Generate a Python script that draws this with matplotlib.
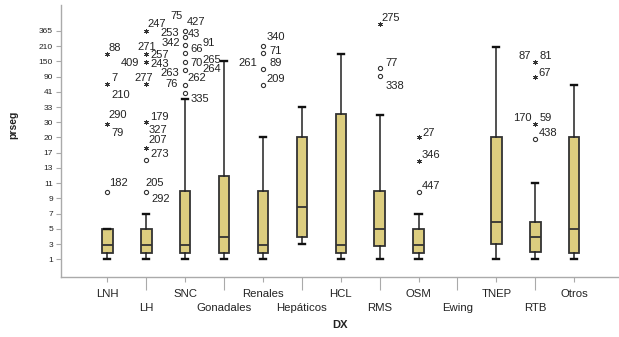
import numpy as np
import matplotlib
matplotlib.use("Agg")
import matplotlib.pyplot as plt
from matplotlib.ticker import FixedLocator, NullLocator

# ---------------- data ----------------
categories = ["LNH", "LH", "SNC", "Gonadales", "Renales", "Hepáticos", "HCL",
              "RMS", "OSM", "Ewing", "TNEP", "RTB", "Otros"]
y_tick_values = [1, 3, 5, 7, 9, 11, 13, 17, 20, 30, 33, 41, 90, 150, 210, 365]

whisker_low = [1, 1, 1, 1, 1, 3, 1, 1, 1, None, 1, 1, 1]
q1 = [1.8, 1.8, 1.8, 1.8, 1.8, 3.9, 1.8, 2.8, 1.8, None, 3, 2, 1.8]
median = [2.9, 2.9, 2.9, 3.9, 2.9, 7.9, 2.9, 5, 2.9, None, 5.9, 3.9, 5]
q3 = [5, 5, 10, 12, 10, 20, 31.6, 10, 5, None, 20, 5.9, 20]
whisker_high = [5, 7, 37, 150, 20, 33, 180, 31.4, 7, None, 207, 11, 63]

outlier_category = ["LNH", "LNH", "LNH", "LNH",
                    "LH", "LH", "LH", "LH", "LH", "LH", "LH", "LH",
                    "SNC", "SNC", "SNC", "SNC", "SNC", "SNC", "SNC", "SNC",
                    "Renales", "Renales", "Renales", "Renales",
                    "RMS", "RMS", "RMS",
                    "OSM", "OSM", "OSM",
                    "RTB", "RTB", "RTB", "RTB"]
outlier_value = [180, 65.5, 28.7, 9.8,
                 365, 180, 149, 65.5, 30, 18, 15, 9.8,
                 365, 301, 222, 182, 147.6, 116, 62.6, 40.3,
                 215, 182, 119, 62.6,
                 436, 123, 92.4,
                 20, 14.9, 9.8,
                 146.5, 88, 28.7, 19.7]
outlier_kind = ["*", "*", "*", "o",
                "*", "*", "*", "*", "*", "*", "o", "o",
                "o", "o", "o", "o", "o", "o", "o", "o",
                "o", "o", "o", "o",
                "*", "o", "o",
                "*", "*", "o",
                "*", "*", "*", "o"]

label_text = ["88", "7", "210", "290", "79", "182",
              "247", "271", "257", "409", "243", "277", "179", "327", "207", "273", "205", "292",
              "75", "427", "253", "43", "342", "66", "91", "70", "265", "264", "263", "262", "76", "335",
              "340", "71", "261", "89", "209",
              "275", "77", "338",
              "27", "346", "447",
              "87", "81", "67", "170", "59", "438"]
label_category = (["LNH"] * 6 + ["LH"] * 12 + ["SNC"] * 14 + ["Renales"] * 5
                  + ["RMS"] * 3 + ["OSM"] * 3 + ["RTB"] * 6)
label_value = [180, 65.5, 65.5, 28.7, 28.7, 9.8,
               365, 180, 180, 149, 149, 65.5, 30, 30, 18, 18, 9.8, 9.8,
               365, 365, 301, 301, 222, 182, 182, 147.6, 147.6, 116, 116, 116, 62.6, 40.3,
               215, 182, 119, 119, 62.6,
               436, 123, 92.4,
               20, 14.9, 9.8,
               146.5, 146.5, 88, 28.7, 28.7, 19.7]

# ---------------- layout (pixel offsets of the labels) ----------------
label_offset_px = [(7, -6.7), (7, -7), (13, 9.7), (10, -10), (10, 7.4), (11, -10.6),
                   (10, -8.4), (0, -8.3), (13, 0.3), (-16, 0), (13, 1.6), (-2.5, -7),
                   (13, -6.7), (12, 6.6), (11, -8.4), (13, 5), (8, -10.3), (14.5, 5.3),
                   (-8.3, -16), (11, -10.3), (-15.5, -5), (9, -4), (-14.5, -3.3), (11, -5.6),
                   (24, -11.6), (11, 0.3), (27, -3), (27, -2.3), (-15.5, 2.3), (12, 7.3),
                   (-14, -1.7), (15, 5),
                   (12.8, -10), (12.3, -3.3), (-15, -7.6), (12.3, -7.6), (12.8, -7.3),
                   (10.7, -7.3), (11.7, -6), (15.7, 9),
                   (10.2, -5.6), (12.4, -6.7), (12.4, -7.7),
                   (-10.5, -7.3), (10.5, -7.3), (9.5, -5.6), (-12.5, -7.6), (10.5, -7.6), (13, -6.7)]

FONT = ["Liberation Sans", "DejaVu Sans"]
plt.rcParams["font.family"] = FONT

W, H = 619, 337
fig = plt.figure(figsize=(W / 100, H / 100), dpi=100)
ax_left, ax_right, ax_top, ax_bottom = 60.7, 619, 5, 277
ax = fig.add_axes([ax_left / W, 1 - ax_bottom / H, (ax_right - ax_left) / W, (ax_bottom - ax_top) / H])

# ordinal-like y scale: tick values equally spaced
anchor_vals = np.array([-3.0] + list(y_tick_values) + [675.0])
anchor_idx = np.array([-2.0] + list(range(len(y_tick_values))) + [17.0])


def fwd(v):
    return np.interp(v, anchor_vals, anchor_idx)


def inv(i):
    return np.interp(i, anchor_idx, anchor_vals)


ax.set_yscale("function", functions=(fwd, inv))

pos = {c: i for i, c in enumerate(categories)}
stats, positions = [], []
for i, c in enumerate(categories):
    if whisker_low[i] is None:
        continue
    stats.append(dict(whislo=whisker_low[i], q1=q1[i], med=median[i], q3=q3[i],
                      whishi=whisker_high[i], fliers=[]))
    positions.append(i)

box_color = "#dccd7f"
edge = "#333333"
ax.bxp(stats, positions=positions, widths=0.27, capwidths=0.16, patch_artist=True,
       showfliers=False,
       boxprops=dict(facecolor=box_color, edgecolor=edge, linewidth=1.3),
       medianprops=dict(color=edge, linewidth=1.3),
       whiskerprops=dict(color="#222222", linewidth=1.1),
       capprops=dict(color="#111111", linewidth=1.7))

for c, v, k in zip(outlier_category, outlier_value, outlier_kind):
    x = pos[c]
    if k == "o":
        ax.plot([x], [v], marker="o", markersize=3.0, markerfacecolor="none",
                markeredgecolor="#333333", markeredgewidth=0.8, linestyle="none")
    else:
        ax.plot([x], [v], marker=(6, 2, 0), markersize=3.4, color="#333333",
                markeredgewidth=0.6, linestyle="none")

px2pt = 0.72
for t, c, v, (dx, dy) in zip(label_text, label_category, label_value, label_offset_px):
    ax.annotate(t, (pos[c], v), xytext=(dx * px2pt, -(dy + 4.1) * px2pt),
                textcoords="offset points", ha="center", va="baseline",
                fontsize=8, color="#222222")

# axes styling
y_lo = inv(-1.16)
y_hi = inv(16.7)
ax.set_ylim(y_lo, y_hi)
ax.set_xlim(-1.2, -1.2 + (ax_right - ax_left) / 38.9)
ax.yaxis.set_major_locator(FixedLocator(y_tick_values))
ax.yaxis.set_minor_locator(NullLocator())
ax.set_yticklabels([str(v) for v in y_tick_values])

even = list(range(0, len(categories), 2))
odd = list(range(1, len(categories), 2))
ax.set_xticks(even)
ax.set_xticklabels([categories[i] for i in even])
ax.set_xticks(odd, minor=True)
ax.set_xticklabels([categories[i] for i in odd], minor=True)

for s in ["top", "right"]:
    ax.spines[s].set_visible(False)
for s in ["left", "bottom"]:
    ax.spines[s].set_color("#aaaaaa")
    ax.spines[s].set_linewidth(1.0)

ax.tick_params(axis="y", which="major", length=3.6, width=0.8, color="#aaaaaa",
               labelsize=6, pad=2, labelcolor="#222222")
ax.tick_params(axis="x", which="major", length=3.4, width=0.8, color="#aaaaaa",
               labelsize=8.2, pad=5.0, labelcolor="#222222")
ax.tick_params(axis="x", which="minor", length=9.5, width=0.8, color="#aaaaaa",
               labelsize=8.2, pad=9.5, labelcolor="#222222")

fig.text(13 / W, 1 - 125 / H, "prseg", rotation=90, ha="center", va="center",
         fontsize=7.5, fontweight="bold", color="#222222")
fig.text(340 / W, 1 - 325 / H, "DX", ha="center", va="center",
         fontsize=8, fontweight="bold", color="#222222")

fig.savefig("out.png", dpi=100)
